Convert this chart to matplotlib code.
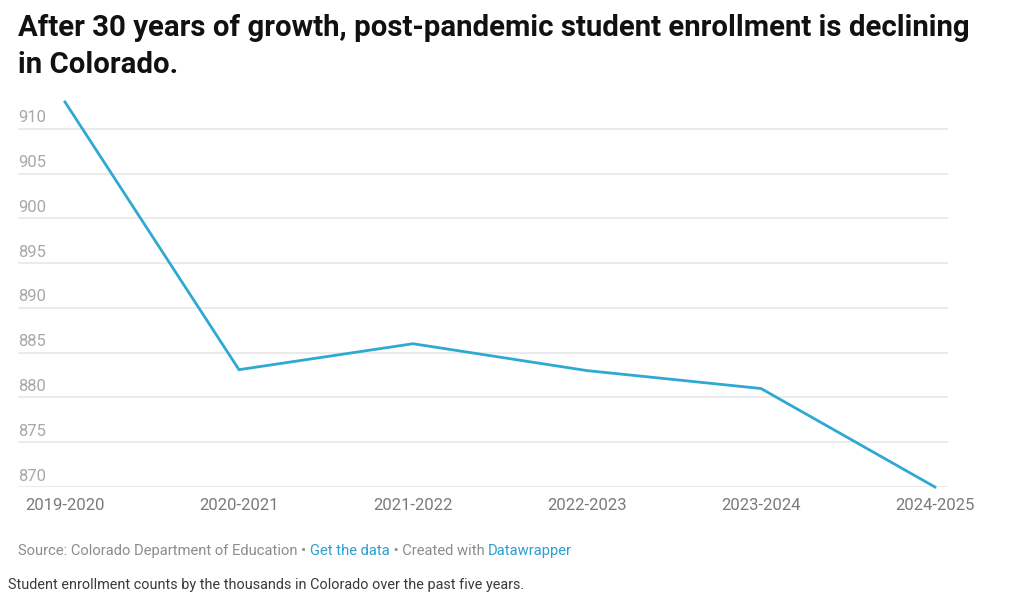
import matplotlib
matplotlib.use("Agg")
import matplotlib.pyplot as plt

# enrollment in thousands
years = ["2019-2020", "2020-2021", "2021-2022", "2022-2023", "2023-2024", "2024-2025"]
enrollment = [913.0, 883.1, 886.0, 883.0, 881.0, 870.0]
yticks = [870, 875, 880, 885, 890, 895, 900, 905, 910]

title = "After 30 years of growth, post-pandemic student enrollment is declining\nin Colorado."
caption = "Student enrollment counts by the thousands in Colorado over the past five years."

plt.rcParams['font.family'] = ['Roboto', 'DejaVu Sans']

W, H = 1024, 601
fig = plt.figure(figsize=(W / 100, H / 100), dpi=100)
fig.patch.set_facecolor("white")

# axes placed in pixel terms of the reference
ax = fig.add_axes([18 / W, (H - 487) / H, 930 / W, (487 - 93) / H])
ax.set_xlim(-0.27, 5.075)
ax.set_ylim(870, 914)

ax.plot(range(len(years)), enrollment, color="#2ea9d2", lw=2.0,
        solid_joinstyle="miter", clip_on=False, zorder=3)

# gridlines and labels sitting above them, datawrapper style
for v in yticks:
    ax.axhline(v, color="#e6e6e6", lw=1.1, zorder=1)
    ax.annotate(str(v), xy=(0, v), xycoords=ax.get_yaxis_transform(),
                xytext=(0, 2.5), textcoords="offset points",
                ha="left", va="bottom", fontsize=12, color="#a8a8a8")

ax.set_yticks([])
ax.set_xticks(range(len(years)))
ax.set_xticklabels(years, fontsize=12, color="#7a7a7a")
ax.tick_params(axis="x", length=0, pad=8)
for s in ax.spines.values():
    s.set_visible(False)

fig.text(18 / W, 1 - 14 / H, title, ha="left", va="top", fontsize=21.2,
         fontweight="bold", color="#111111", linespacing=1.42)

# source line with coloured links
renderer = fig.canvas.get_renderer()
parts = [("Source: Colorado Department of Education \u2022 ", "#8c8c8c"),
         ("Get the data", "#2a9fd0"),
         (" \u2022 Created with ", "#8c8c8c"),
         ("Datawrapper", "#2a9fd0")]
x = 18
for txt, col in parts:
    t = fig.text(x / W, 1 - 551 / H, txt, ha="left", va="center",
                 fontsize=10.6, color=col)
    bb = t.get_window_extent(renderer=renderer)
    x += bb.width

fig.text(8 / W, 1 - 585 / H, caption, ha="left", va="center",
         fontsize=10.35, color="#3a3a3a")

fig.savefig("out.png", dpi=100, facecolor="white")
